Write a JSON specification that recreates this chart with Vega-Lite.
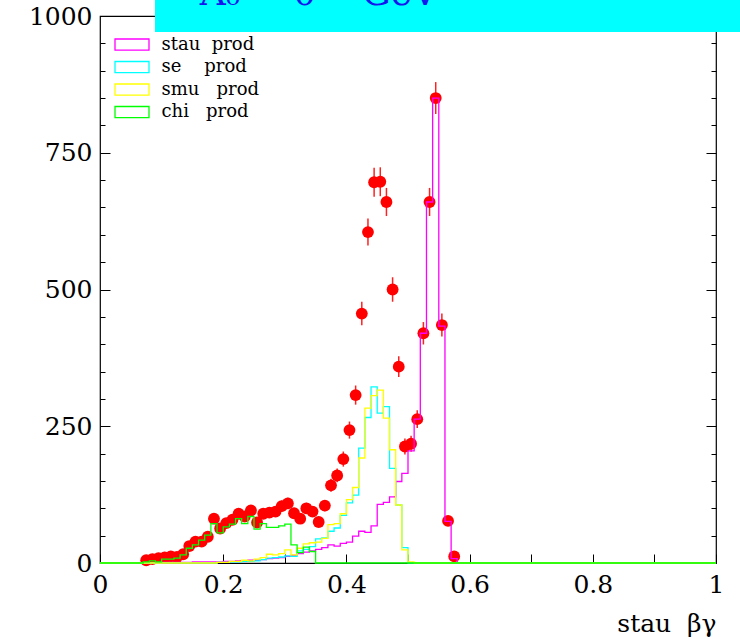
{
  "$schema": "https://vega.github.io/schema/vega-lite/v6.json",
  "width": 616,
  "height": 547,
  "autosize": {"type": "none"},
  "padding": {"left": 100, "top": 16, "right": 24, "bottom": 76},
  "background": "white",
  "config": {
    "view": {"stroke": "black", "strokeWidth": 1.2},
    "axis": {"domain": false, "grid": false, "tickColor": "black", "tickWidth": 1, "labelColor": "black", "labelFont": "DejaVu Serif", "labelFontSize": 25, "titleColor": "black", "titleFont": "DejaVu Serif", "titleFontWeight": "normal"}
  },
  "datasets": {
    "pts": [
      {"x": 0.075, "v": 5, "e": 2.2}, {"x": 0.085, "v": 7, "e": 2.6}, {"x": 0.095, "v": 9, "e": 3},
      {"x": 0.105, "v": 10, "e": 3.2}, {"x": 0.115, "v": 12, "e": 3.5}, {"x": 0.125, "v": 11, "e": 3.3},
      {"x": 0.135, "v": 16, "e": 4}, {"x": 0.145, "v": 31, "e": 5.6}, {"x": 0.155, "v": 39, "e": 6.2},
      {"x": 0.165, "v": 39, "e": 6.2}, {"x": 0.175, "v": 48, "e": 6.9}, {"x": 0.185, "v": 81, "e": 9},
      {"x": 0.195, "v": 63, "e": 7.9}, {"x": 0.205, "v": 73, "e": 8.5}, {"x": 0.215, "v": 79, "e": 8.9},
      {"x": 0.225, "v": 90, "e": 9.5}, {"x": 0.235, "v": 85, "e": 9.2}, {"x": 0.245, "v": 96, "e": 9.8},
      {"x": 0.255, "v": 74, "e": 8.6}, {"x": 0.265, "v": 90, "e": 9.5}, {"x": 0.275, "v": 92, "e": 9.6},
      {"x": 0.285, "v": 94, "e": 9.7}, {"x": 0.295, "v": 104, "e": 10.2}, {"x": 0.305, "v": 109, "e": 10.4},
      {"x": 0.315, "v": 91, "e": 9.5}, {"x": 0.325, "v": 81, "e": 9}, {"x": 0.335, "v": 100, "e": 10},
      {"x": 0.345, "v": 94, "e": 9.7}, {"x": 0.355, "v": 75, "e": 8.7}, {"x": 0.365, "v": 105, "e": 10.2},
      {"x": 0.375, "v": 142, "e": 11.9}, {"x": 0.385, "v": 160, "e": 12.6}, {"x": 0.395, "v": 190, "e": 13.8},
      {"x": 0.405, "v": 243, "e": 15.6}, {"x": 0.415, "v": 307, "e": 17.5}, {"x": 0.425, "v": 456, "e": 21.4},
      {"x": 0.435, "v": 605, "e": 24.6}, {"x": 0.445, "v": 696, "e": 26.4}, {"x": 0.455, "v": 697, "e": 26.4},
      {"x": 0.465, "v": 660, "e": 25.7}, {"x": 0.475, "v": 500, "e": 22.4}, {"x": 0.485, "v": 359, "e": 18.9},
      {"x": 0.495, "v": 213, "e": 14.6}, {"x": 0.505, "v": 218, "e": 14.8}, {"x": 0.515, "v": 263, "e": 16.2},
      {"x": 0.525, "v": 420, "e": 20.5}, {"x": 0.535, "v": 660, "e": 25.7}, {"x": 0.545, "v": 850, "e": 29.2},
      {"x": 0.555, "v": 435, "e": 20.9}, {"x": 0.565, "v": 77, "e": 8.8}, {"x": 0.575, "v": 12, "e": 3.5}
    ],
    "hist": [
      {"s": "stau", "x": 0, "v": 0}, {"s": "stau", "x": 0.10, "v": 1}, {"s": "stau", "x": 0.15, "v": 2}, {"s": "stau", "x": 0.20, "v": 3},
      {"s": "stau", "x": 0.22, "v": 4}, {"s": "stau", "x": 0.24, "v": 5}, {"s": "stau", "x": 0.26, "v": 6}, {"s": "stau", "x": 0.27, "v": 8},
      {"s": "stau", "x": 0.28, "v": 9}, {"s": "stau", "x": 0.29, "v": 10}, {"s": "stau", "x": 0.30, "v": 12}, {"s": "stau", "x": 0.31, "v": 14},
      {"s": "stau", "x": 0.32, "v": 17}, {"s": "stau", "x": 0.33, "v": 20}, {"s": "stau", "x": 0.34, "v": 22}, {"s": "stau", "x": 0.35, "v": 25},
      {"s": "stau", "x": 0.36, "v": 28}, {"s": "stau", "x": 0.37, "v": 33}, {"s": "stau", "x": 0.38, "v": 31}, {"s": "stau", "x": 0.39, "v": 36},
      {"s": "stau", "x": 0.40, "v": 38}, {"s": "stau", "x": 0.41, "v": 49}, {"s": "stau", "x": 0.42, "v": 58}, {"s": "stau", "x": 0.43, "v": 56},
      {"s": "stau", "x": 0.44, "v": 68}, {"s": "stau", "x": 0.45, "v": 107}, {"s": "stau", "x": 0.46, "v": 111}, {"s": "stau", "x": 0.47, "v": 121},
      {"s": "stau", "x": 0.48, "v": 149}, {"s": "stau", "x": 0.49, "v": 164}, {"s": "stau", "x": 0.50, "v": 205}, {"s": "stau", "x": 0.51, "v": 263},
      {"s": "stau", "x": 0.52, "v": 420}, {"s": "stau", "x": 0.53, "v": 660}, {"s": "stau", "x": 0.54, "v": 850}, {"s": "stau", "x": 0.55, "v": 433},
      {"s": "stau", "x": 0.56, "v": 76}, {"s": "stau", "x": 0.57, "v": 8}, {"s": "stau", "x": 0.58, "v": 0}, {"s": "stau", "x": 1, "v": 0},

      {"s": "se", "x": 0, "v": 0}, {"s": "se", "x": 0.19, "v": 1}, {"s": "se", "x": 0.21, "v": 2}, {"s": "se", "x": 0.23, "v": 3},
      {"s": "se", "x": 0.25, "v": 4}, {"s": "se", "x": 0.26, "v": 6}, {"s": "se", "x": 0.27, "v": 9}, {"s": "se", "x": 0.28, "v": 10},
      {"s": "se", "x": 0.29, "v": 11}, {"s": "se", "x": 0.30, "v": 13}, {"s": "se", "x": 0.31, "v": 12}, {"s": "se", "x": 0.32, "v": 22},
      {"s": "se", "x": 0.33, "v": 25}, {"s": "se", "x": 0.34, "v": 30}, {"s": "se", "x": 0.35, "v": 44}, {"s": "se", "x": 0.36, "v": 46},
      {"s": "se", "x": 0.37, "v": 58}, {"s": "se", "x": 0.38, "v": 64}, {"s": "se", "x": 0.39, "v": 87}, {"s": "se", "x": 0.40, "v": 110},
      {"s": "se", "x": 0.41, "v": 124}, {"s": "se", "x": 0.42, "v": 210}, {"s": "se", "x": 0.43, "v": 266}, {"s": "se", "x": 0.44, "v": 322},
      {"s": "se", "x": 0.45, "v": 274}, {"s": "se", "x": 0.46, "v": 286}, {"s": "se", "x": 0.47, "v": 173}, {"s": "se", "x": 0.48, "v": 106},
      {"s": "se", "x": 0.49, "v": 28}, {"s": "se", "x": 0.50, "v": 0}, {"s": "se", "x": 1, "v": 0},

      {"s": "smu", "x": 0, "v": 0}, {"s": "smu", "x": 0.19, "v": 1}, {"s": "smu", "x": 0.21, "v": 3}, {"s": "smu", "x": 0.23, "v": 5},
      {"s": "smu", "x": 0.24, "v": 4}, {"s": "smu", "x": 0.25, "v": 7}, {"s": "smu", "x": 0.26, "v": 10}, {"s": "smu", "x": 0.27, "v": 16},
      {"s": "smu", "x": 0.28, "v": 15}, {"s": "smu", "x": 0.29, "v": 17}, {"s": "smu", "x": 0.30, "v": 24}, {"s": "smu", "x": 0.31, "v": 15},
      {"s": "smu", "x": 0.32, "v": 27}, {"s": "smu", "x": 0.33, "v": 35}, {"s": "smu", "x": 0.34, "v": 37}, {"s": "smu", "x": 0.35, "v": 38},
      {"s": "smu", "x": 0.36, "v": 45}, {"s": "smu", "x": 0.37, "v": 70}, {"s": "smu", "x": 0.38, "v": 72}, {"s": "smu", "x": 0.39, "v": 90},
      {"s": "smu", "x": 0.40, "v": 116}, {"s": "smu", "x": 0.41, "v": 138}, {"s": "smu", "x": 0.42, "v": 192}, {"s": "smu", "x": 0.43, "v": 283},
      {"s": "smu", "x": 0.44, "v": 306}, {"s": "smu", "x": 0.45, "v": 316}, {"s": "smu", "x": 0.46, "v": 265}, {"s": "smu", "x": 0.47, "v": 207},
      {"s": "smu", "x": 0.48, "v": 106}, {"s": "smu", "x": 0.49, "v": 24}, {"s": "smu", "x": 0.50, "v": 2}, {"s": "smu", "x": 0.51, "v": 0},
      {"s": "smu", "x": 1, "v": 0},

      {"s": "chi", "x": 0, "v": 0}, {"s": "chi", "x": 0.07, "v": 2}, {"s": "chi", "x": 0.08, "v": 4}, {"s": "chi", "x": 0.09, "v": 2},
      {"s": "chi", "x": 0.10, "v": 7}, {"s": "chi", "x": 0.11, "v": 7}, {"s": "chi", "x": 0.12, "v": 9}, {"s": "chi", "x": 0.13, "v": 15},
      {"s": "chi", "x": 0.14, "v": 27}, {"s": "chi", "x": 0.15, "v": 33}, {"s": "chi", "x": 0.16, "v": 42}, {"s": "chi", "x": 0.17, "v": 51},
      {"s": "chi", "x": 0.18, "v": 72}, {"s": "chi", "x": 0.19, "v": 55}, {"s": "chi", "x": 0.20, "v": 66}, {"s": "chi", "x": 0.21, "v": 71},
      {"s": "chi", "x": 0.22, "v": 81}, {"s": "chi", "x": 0.23, "v": 72}, {"s": "chi", "x": 0.24, "v": 85}, {"s": "chi", "x": 0.25, "v": 62},
      {"s": "chi", "x": 0.26, "v": 72}, {"s": "chi", "x": 0.27, "v": 65}, {"s": "chi", "x": 0.28, "v": 65}, {"s": "chi", "x": 0.29, "v": 68},
      {"s": "chi", "x": 0.30, "v": 71}, {"s": "chi", "x": 0.31, "v": 33}, {"s": "chi", "x": 0.32, "v": 19}, {"s": "chi", "x": 0.33, "v": 29},
      {"s": "chi", "x": 0.34, "v": 21}, {"s": "chi", "x": 0.35, "v": 0}, {"s": "chi", "x": 1, "v": 0}
    ],
    "box": [{"x": 0.0893, "x2": 1.06, "y": 970.7, "y2": 1060}],
    "label": [{"x": 0.162, "y": 1020, "t": "A₀ = 0\u00a0\u00a0\u00a0\u00a0GeV"}]
  },
  "resolve": {"axis": {"y": "independent"}},
  "layer": [
    {
      "data": {"name": "pts"},
      "mark": {"type": "errorbar", "ticks": false, "color": "#ff2020", "thickness": 1.5},
      "encoding": {
        "x": {"field": "x", "type": "quantitative", "scale": {"domain": [0, 1], "nice": false},
          "axis": {"title": "stau\u00a0\u00a0βγ", "values": [0, 0.1, 0.2, 0.3, 0.4, 0.5, 0.6, 0.7, 0.8, 0.9, 1], "tickSize": -9, "labelPadding": 18,
            "labelExpr": "round(datum.value * 10) % 2 === 0 ? format(datum.value, '~g') : ''", "labelFlush": false,
            "titleFontSize": 25, "titleAnchor": "end", "titleAlign": "right", "titlePadding": 14}},
        "y": {"field": "v", "type": "quantitative", "scale": {"domain": [0, 1000], "nice": false}, "axis": null},
        "yError": {"field": "e"}
      }
    },
    {
      "data": {"name": "pts"},
      "mark": {"type": "circle", "size": 140, "color": "#ff0000", "opacity": 1},
      "encoding": {
        "x": {"field": "x", "type": "quantitative", "scale": {"domain": [0, 1], "nice": false},
          "axis": {"title": "stau\u00a0\u00a0βγ", "values": [0, 0.1, 0.2, 0.3, 0.4, 0.5, 0.6, 0.7, 0.8, 0.9, 1], "tickSize": -9, "labelPadding": 18,
            "labelExpr": "round(datum.value * 10) % 2 === 0 ? format(datum.value, '~g') : ''", "labelFlush": false,
            "titleFontSize": 25, "titleAnchor": "end", "titleAlign": "right", "titlePadding": 14}},
        "y": {"field": "v", "type": "quantitative", "scale": {"domain": [0, 1000], "nice": false},
          "axis": {"orient": "left", "title": null, "format": "d",
            "values": [0, 50, 100, 150, 200, 250, 300, 350, 400, 450, 500, 550, 600, 650, 700, 750, 800, 850, 900, 950, 1000],
            "tickSize": {"condition": {"test": "datum.value % 250 === 0", "value": -10}, "value": -5},
            "labelPadding": 18, "labelExpr": "datum.value % 250 === 0 ? datum.label : ''"}}
      }
    },
    {
      "data": {"name": "hist"},
      "mark": {"type": "line", "interpolate": "step-after", "strokeWidth": 1.3},
      "encoding": {
        "x": {"field": "x", "type": "quantitative", "scale": {"domain": [0, 1], "nice": false},
          "axis": {"title": "stau\u00a0\u00a0βγ", "values": [0, 0.1, 0.2, 0.3, 0.4, 0.5, 0.6, 0.7, 0.8, 0.9, 1], "tickSize": -9, "labelPadding": 18,
            "labelExpr": "round(datum.value * 10) % 2 === 0 ? format(datum.value, '~g') : ''", "labelFlush": false,
            "titleFontSize": 25, "titleAnchor": "end", "titleAlign": "right", "titlePadding": 14}},
        "y": {"field": "v", "type": "quantitative", "scale": {"domain": [0, 1000], "nice": false},
          "axis": {"orient": "right", "title": null, "labels": false,
            "values": [0, 50, 100, 150, 200, 250, 300, 350, 400, 450, 500, 550, 600, 650, 700, 750, 800, 850, 900, 950, 1000],
            "tickSize": {"condition": {"test": "datum.value % 250 === 0", "value": -10}, "value": -5}}},
        "color": {"field": "s", "type": "nominal",
          "scale": {"domain": ["stau", "se", "smu", "chi"], "range": ["#ff00ff", "#00ffff", "#ffff00", "#00ff00"]},
          "legend": {"orient": "none", "legendX": 22.5, "legendY": 19, "title": null, "padding": 0,
            "symbolType": "M-2,-0.65H2V0.65H-2Z", "symbolSize": 289, "symbolStrokeWidth": 1.3,
            "labelFont": "DejaVu Serif", "labelFontSize": 18, "labelColor": "black", "labelOffset": 20, "rowPadding": 3.5,
            "labelExpr": "datum.label === 'stau' ? 'stau\u00a0\u00a0prod' : datum.label === 'se' ? 'se\u00a0\u00a0\u00a0\u00a0prod' : datum.label === 'smu' ? 'smu\u00a0\u00a0\u00a0prod' : 'chi\u00a0\u00a0\u00a0prod'"}}
      }
    },
    {
      "data": {"name": "box"},
      "mark": {"type": "rect", "color": "#00ffff", "opacity": 1},
      "encoding": {
        "x": {"field": "x", "type": "quantitative", "scale": {"domain": [0, 1], "nice": false},
          "axis": {"title": "stau\u00a0\u00a0βγ", "values": [0, 0.1, 0.2, 0.3, 0.4, 0.5, 0.6, 0.7, 0.8, 0.9, 1], "tickSize": -9, "labelPadding": 18,
            "labelExpr": "round(datum.value * 10) % 2 === 0 ? format(datum.value, '~g') : ''", "labelFlush": false,
            "titleFontSize": 25, "titleAnchor": "end", "titleAlign": "right", "titlePadding": 14}},
        "x2": {"field": "x2"},
        "y": {"field": "y", "type": "quantitative", "scale": {"domain": [0, 1000], "nice": false}, "axis": null},
        "y2": {"field": "y2"}
      }
    },
    {
      "data": {"name": "label"},
      "mark": {"type": "text", "align": "left", "baseline": "alphabetic", "font": "DejaVu Serif", "fontSize": 36, "color": "#1515f0"},
      "encoding": {
        "x": {"field": "x", "type": "quantitative", "scale": {"domain": [0, 1], "nice": false},
          "axis": {"title": "stau\u00a0\u00a0βγ", "values": [0, 0.1, 0.2, 0.3, 0.4, 0.5, 0.6, 0.7, 0.8, 0.9, 1], "tickSize": -9, "labelPadding": 18,
            "labelExpr": "round(datum.value * 10) % 2 === 0 ? format(datum.value, '~g') : ''", "labelFlush": false,
            "titleFontSize": 25, "titleAnchor": "end", "titleAlign": "right", "titlePadding": 14}},
        "y": {"field": "y", "type": "quantitative", "scale": {"domain": [0, 1000], "nice": false}, "axis": null},
        "text": {"field": "t"}
      }
    }
  ]
}
